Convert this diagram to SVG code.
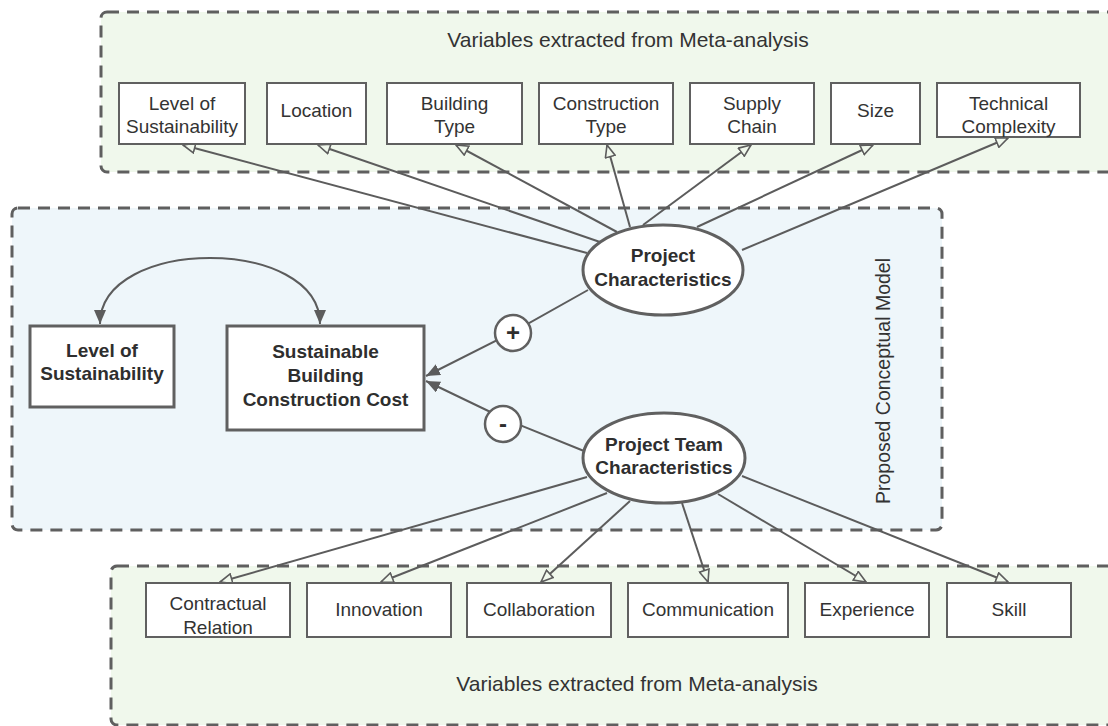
<svg xmlns="http://www.w3.org/2000/svg" width="1108" height="726" viewBox="0 0 1108 726">
  <style>
    .group-green { fill: #f0f8ec; stroke: #5f5f5f; stroke-width: 3; stroke-dasharray: 12 8; }
    .group-blue { fill: #eef6fa; stroke: #5f5f5f; stroke-width: 3; stroke-dasharray: 12 8; }
    .box { fill: #ffffff; stroke: #606060; stroke-width: 2; }
    .box-bold { fill: #ffffff; stroke: #606060; stroke-width: 3; }
    .latent { fill: #ffffff; stroke: #606060; stroke-width: 3; }
    .sign { fill: #ffffff; stroke: #606060; stroke-width: 2.5; }
    .link { fill: none; stroke: #5c5c5c; stroke-width: 2; }
    .lbl { font-family: "Liberation Sans", Arial, sans-serif; font-size: 19px; fill: #333333; text-anchor: middle; }
    .lbl-b { font-family: "Liberation Sans", Arial, sans-serif; font-size: 19px; font-weight: bold; fill: #2e2e2e; text-anchor: middle; }
    .title { font-family: "Liberation Sans", Arial, sans-serif; font-size: 21px; fill: #333333; text-anchor: middle; }
  </style>
  <defs>
    <marker id="hollow" viewBox="0 0 14 12" refX="13" refY="6" markerWidth="14" markerHeight="12" markerUnits="userSpaceOnUse" orient="auto">
      <path d="M1,1 L13,6 L1,11 Z" fill="#f0f8ec" stroke="#5c5c5c" stroke-width="1.6"/>
    </marker>
    <marker id="solid" viewBox="0 0 14 12" refX="14" refY="6" markerWidth="14" markerHeight="12" markerUnits="userSpaceOnUse" orient="auto-start-reverse">
      <path d="M0,0 L14,6 L0,12 Z" fill="#5c5c5c"/>
    </marker>
  </defs>

  <!-- containers -->
  <g id="group-project-vars">
    <rect class="group-green" x="101" y="12" width="1030" height="160" rx="6"/>
    <text class="title" x="628" y="47">Variables extracted from Meta-analysis</text>
  </g>
  <g id="group-model">
    <rect class="group-blue" x="12" y="208" width="930" height="322" rx="6"/>
    <text class="lbl" x="890" y="381" transform="rotate(-90 890 381)" style="font-size:19.5px">Proposed Conceptual Model</text>
  </g>
  <g id="group-team-vars">
    <rect class="group-green" x="111" y="566" width="1030" height="159" rx="6"/>
    <text class="title" x="637" y="691">Variables extracted from Meta-analysis</text>
  </g>

  <!-- connectors -->
  <g id="connectors">
    <line class="link" x1="587" y1="253" x2="183" y2="145" marker-end="url(#hollow)"/>
    <line class="link" x1="600" y1="242" x2="318" y2="145" marker-end="url(#hollow)"/>
    <line class="link" x1="617" y1="232" x2="456" y2="145" marker-end="url(#hollow)"/>
    <line class="link" x1="630" y1="227" x2="607" y2="145" marker-end="url(#hollow)"/>
    <line class="link" x1="643" y1="225" x2="751" y2="145" marker-end="url(#hollow)"/>
    <line class="link" x1="697" y1="227" x2="873" y2="145" marker-end="url(#hollow)"/>
    <line class="link" x1="742" y1="250" x2="1008" y2="138" marker-end="url(#hollow)"/>

    <line class="link" x1="587" y1="477" x2="220" y2="582" marker-end="url(#hollow)"/>
    <line class="link" x1="607" y1="493" x2="381" y2="582" marker-end="url(#hollow)"/>
    <line class="link" x1="630" y1="501" x2="541" y2="582" marker-end="url(#hollow)"/>
    <line class="link" x1="682" y1="503" x2="708" y2="582" marker-end="url(#hollow)"/>
    <line class="link" x1="718" y1="494" x2="866" y2="582" marker-end="url(#hollow)"/>
    <line class="link" x1="742" y1="476" x2="1008" y2="582" marker-end="url(#hollow)"/>

    <polyline class="link" points="588,290 513,332 426,376" marker-end="url(#solid)"/>
    <polyline class="link" points="584,451 505,419 426,381" marker-end="url(#solid)"/>

    <path class="link" d="M100,324 C100,236 320,236 320,324" marker-start="url(#solid)" marker-end="url(#solid)"/>
  </g>

  <!-- project characteristic variables -->
  <g id="node-level-sustainability-var">
    <rect class="box" x="119" y="83" width="126" height="61"/>
    <text class="lbl" x="182" y="110">Level of</text>
    <text class="lbl" x="182" y="133">Sustainability</text>
  </g>
  <g id="node-location">
    <rect class="box" x="267" y="83" width="99" height="61"/>
    <text class="lbl" x="316.5" y="117">Location</text>
  </g>
  <g id="node-building-type">
    <rect class="box" x="387" y="83" width="135" height="61"/>
    <text class="lbl" x="454.5" y="110">Building</text>
    <text class="lbl" x="454.5" y="133">Type</text>
  </g>
  <g id="node-construction-type">
    <rect class="box" x="539" y="83" width="134" height="61"/>
    <text class="lbl" x="606" y="110">Construction</text>
    <text class="lbl" x="606" y="133">Type</text>
  </g>
  <g id="node-supply-chain">
    <rect class="box" x="690" y="83" width="124" height="61"/>
    <text class="lbl" x="752" y="110">Supply</text>
    <text class="lbl" x="752" y="133">Chain</text>
  </g>
  <g id="node-size">
    <rect class="box" x="831" y="83" width="89" height="61"/>
    <text class="lbl" x="875.5" y="117">Size</text>
  </g>
  <g id="node-technical-complexity">
    <rect class="box" x="937" y="83" width="143" height="54"/>
    <text class="lbl" x="1008.5" y="110">Technical</text>
    <text class="lbl" x="1008.5" y="133">Complexity</text>
  </g>

  <!-- model core -->
  <g id="node-level-sustainability">
    <rect class="box-bold" x="30" y="326" width="144" height="81"/>
    <text class="lbl-b" x="102" y="357">Level of</text>
    <text class="lbl-b" x="102" y="380">Sustainability</text>
  </g>
  <g id="node-sbcc">
    <rect class="box-bold" x="227" y="326" width="197" height="104"/>
    <text class="lbl-b" x="325.5" y="358">Sustainable</text>
    <text class="lbl-b" x="325.5" y="382">Building</text>
    <text class="lbl-b" x="325.5" y="406">Construction Cost</text>
  </g>
  <g id="node-project-characteristics">
    <ellipse class="latent" cx="663" cy="270" rx="80" ry="45"/>
    <text class="lbl-b" x="663" y="262">Project</text>
    <text class="lbl-b" x="663" y="286">Characteristics</text>
  </g>
  <g id="node-team-characteristics">
    <ellipse class="latent" cx="664" cy="458" rx="81" ry="45"/>
    <text class="lbl-b" x="664" y="451">Project Team</text>
    <text class="lbl-b" x="664" y="474">Characteristics</text>
  </g>
  <g id="sign-positive">
    <circle class="sign" cx="513" cy="333" r="18"/>
    <text class="lbl-b" x="513" y="341" style="font-size:24px">+</text>
  </g>
  <g id="sign-negative">
    <circle class="sign" cx="503" cy="424" r="18"/>
    <text class="lbl-b" x="503" y="432" style="font-size:24px">-</text>
  </g>

  <!-- project team variables -->
  <g id="node-contractual-relation">
    <rect class="box" x="146" y="583" width="144" height="54"/>
    <text class="lbl" x="218" y="610">Contractual</text>
    <text class="lbl" x="218" y="634">Relation</text>
  </g>
  <g id="node-innovation">
    <rect class="box" x="307" y="583" width="144" height="54"/>
    <text class="lbl" x="379" y="616">Innovation</text>
  </g>
  <g id="node-collaboration">
    <rect class="box" x="467" y="583" width="144" height="54"/>
    <text class="lbl" x="539" y="616">Collaboration</text>
  </g>
  <g id="node-communication">
    <rect class="box" x="628" y="583" width="160" height="54"/>
    <text class="lbl" x="708" y="616">Communication</text>
  </g>
  <g id="node-experience">
    <rect class="box" x="805" y="583" width="124" height="54"/>
    <text class="lbl" x="867" y="616">Experience</text>
  </g>
  <g id="node-skill">
    <rect class="box" x="947" y="583" width="124" height="54"/>
    <text class="lbl" x="1009" y="616">Skill</text>
  </g>
</svg>
